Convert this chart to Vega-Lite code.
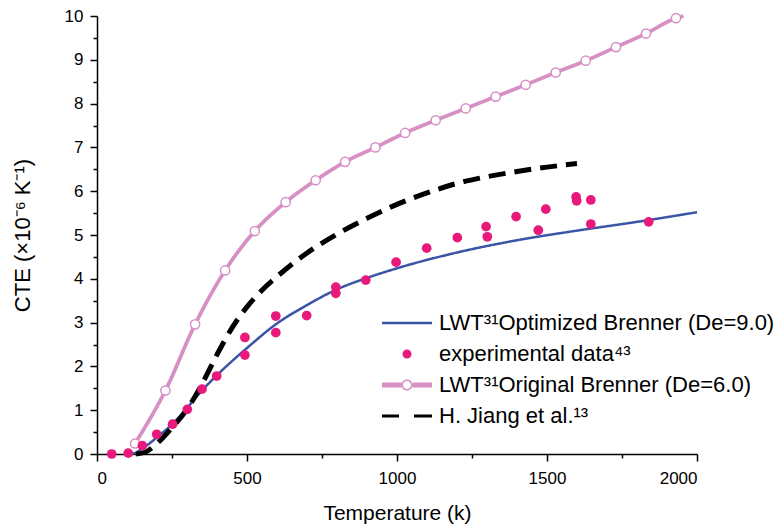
{
  "$schema": "https://vega.github.io/schema/vega-lite/v6.json",
  "width": 600,
  "height": 438,
  "autosize": "none",
  "padding": {"left": 97, "top": 16, "right": 79, "bottom": 74},
  "background": "white",
  "config": {
    "view": {"stroke": null},
    "font": "Liberation Sans",
    "axis": {
      "labelFont": "Liberation Sans", "labelFontSize": 17, "labelColor": "black",
      "titleFont": "Liberation Sans", "titleFontSize": 21, "titleFontWeight": "normal", "titleColor": "black",
      "domainColor": "black", "domainWidth": 1.5, "tickColor": "black", "tickWidth": 1.5,
      "grid": false
    },
    "legend": {"labelFont": "Liberation Sans"}
  },
  "datasets": {
    "lines": [
      {"T": 100, "CTE": 0, "series": "LWT³¹Optimized Brenner (De=9.0)"},
      {"T": 125, "CTE": 0.02, "series": "LWT³¹Optimized Brenner (De=9.0)"},
      {"T": 150, "CTE": 0.12, "series": "LWT³¹Optimized Brenner (De=9.0)"},
      {"T": 200, "CTE": 0.38, "series": "LWT³¹Optimized Brenner (De=9.0)"},
      {"T": 250, "CTE": 0.68, "series": "LWT³¹Optimized Brenner (De=9.0)"},
      {"T": 300, "CTE": 1.05, "series": "LWT³¹Optimized Brenner (De=9.0)"},
      {"T": 350, "CTE": 1.45, "series": "LWT³¹Optimized Brenner (De=9.0)"},
      {"T": 400, "CTE": 1.8, "series": "LWT³¹Optimized Brenner (De=9.0)"},
      {"T": 450, "CTE": 2.12, "series": "LWT³¹Optimized Brenner (De=9.0)"},
      {"T": 500, "CTE": 2.42, "series": "LWT³¹Optimized Brenner (De=9.0)"},
      {"T": 600, "CTE": 2.98, "series": "LWT³¹Optimized Brenner (De=9.0)"},
      {"T": 700, "CTE": 3.4, "series": "LWT³¹Optimized Brenner (De=9.0)"},
      {"T": 800, "CTE": 3.76, "series": "LWT³¹Optimized Brenner (De=9.0)"},
      {"T": 900, "CTE": 4.02, "series": "LWT³¹Optimized Brenner (De=9.0)"},
      {"T": 1000, "CTE": 4.24, "series": "LWT³¹Optimized Brenner (De=9.0)"},
      {"T": 1200, "CTE": 4.6, "series": "LWT³¹Optimized Brenner (De=9.0)"},
      {"T": 1400, "CTE": 4.88, "series": "LWT³¹Optimized Brenner (De=9.0)"},
      {"T": 1600, "CTE": 5.1, "series": "LWT³¹Optimized Brenner (De=9.0)"},
      {"T": 1800, "CTE": 5.3, "series": "LWT³¹Optimized Brenner (De=9.0)"},
      {"T": 2000, "CTE": 5.52, "series": "LWT³¹Optimized Brenner (De=9.0)"},
      {"T": 127, "CTE": 0.24, "series": "LWT³¹Original Brenner (De=6.0)"},
      {"T": 228, "CTE": 1.45, "series": "LWT³¹Original Brenner (De=6.0)"},
      {"T": 327, "CTE": 2.96, "series": "LWT³¹Original Brenner (De=6.0)"},
      {"T": 427, "CTE": 4.19, "series": "LWT³¹Original Brenner (De=6.0)"},
      {"T": 526, "CTE": 5.09, "series": "LWT³¹Original Brenner (De=6.0)"},
      {"T": 629, "CTE": 5.75, "series": "LWT³¹Original Brenner (De=6.0)"},
      {"T": 729, "CTE": 6.25, "series": "LWT³¹Original Brenner (De=6.0)"},
      {"T": 827, "CTE": 6.67, "series": "LWT³¹Original Brenner (De=6.0)"},
      {"T": 928, "CTE": 7.0, "series": "LWT³¹Original Brenner (De=6.0)"},
      {"T": 1027, "CTE": 7.33, "series": "LWT³¹Original Brenner (De=6.0)"},
      {"T": 1129, "CTE": 7.62, "series": "LWT³¹Original Brenner (De=6.0)"},
      {"T": 1229, "CTE": 7.89, "series": "LWT³¹Original Brenner (De=6.0)"},
      {"T": 1329, "CTE": 8.16, "series": "LWT³¹Original Brenner (De=6.0)"},
      {"T": 1429, "CTE": 8.43, "series": "LWT³¹Original Brenner (De=6.0)"},
      {"T": 1529, "CTE": 8.71, "series": "LWT³¹Original Brenner (De=6.0)"},
      {"T": 1629, "CTE": 8.98, "series": "LWT³¹Original Brenner (De=6.0)"},
      {"T": 1730, "CTE": 9.29, "series": "LWT³¹Original Brenner (De=6.0)"},
      {"T": 1830, "CTE": 9.6, "series": "LWT³¹Original Brenner (De=6.0)"},
      {"T": 1930, "CTE": 9.95, "series": "LWT³¹Original Brenner (De=6.0)"},
      {"T": 1955, "CTE": 10.0, "series": "LWT³¹Original Brenner (De=6.0)"},
      {"T": 130, "CTE": 0, "series": "H. Jiang et al.¹³"},
      {"T": 160, "CTE": 0.04, "series": "H. Jiang et al.¹³"},
      {"T": 200, "CTE": 0.24, "series": "H. Jiang et al.¹³"},
      {"T": 250, "CTE": 0.6, "series": "H. Jiang et al.¹³"},
      {"T": 300, "CTE": 1.02, "series": "H. Jiang et al.¹³"},
      {"T": 350, "CTE": 1.6, "series": "H. Jiang et al.¹³"},
      {"T": 400, "CTE": 2.27, "series": "H. Jiang et al.¹³"},
      {"T": 450, "CTE": 2.88, "series": "H. Jiang et al.¹³"},
      {"T": 500, "CTE": 3.36, "series": "H. Jiang et al.¹³"},
      {"T": 550, "CTE": 3.74, "series": "H. Jiang et al.¹³"},
      {"T": 600, "CTE": 4.05, "series": "H. Jiang et al.¹³"},
      {"T": 700, "CTE": 4.59, "series": "H. Jiang et al.¹³"},
      {"T": 800, "CTE": 5.02, "series": "H. Jiang et al.¹³"},
      {"T": 900, "CTE": 5.38, "series": "H. Jiang et al.¹³"},
      {"T": 1000, "CTE": 5.7, "series": "H. Jiang et al.¹³"},
      {"T": 1100, "CTE": 5.96, "series": "H. Jiang et al.¹³"},
      {"T": 1200, "CTE": 6.18, "series": "H. Jiang et al.¹³"},
      {"T": 1300, "CTE": 6.33, "series": "H. Jiang et al.¹³"},
      {"T": 1400, "CTE": 6.45, "series": "H. Jiang et al.¹³"},
      {"T": 1500, "CTE": 6.55, "series": "H. Jiang et al.¹³"},
      {"T": 1600, "CTE": 6.63, "series": "H. Jiang et al.¹³"}
    ],
    "exp": [
      {"T": 49, "CTE": 0.0},
      {"T": 104, "CTE": 0.02},
      {"T": 151, "CTE": 0.19},
      {"T": 199, "CTE": 0.45},
      {"T": 252, "CTE": 0.68},
      {"T": 301, "CTE": 1.02},
      {"T": 350, "CTE": 1.48},
      {"T": 399, "CTE": 1.78},
      {"T": 493, "CTE": 2.66},
      {"T": 493, "CTE": 2.26},
      {"T": 596, "CTE": 3.15},
      {"T": 596, "CTE": 2.77},
      {"T": 699, "CTE": 3.16},
      {"T": 796, "CTE": 3.81},
      {"T": 796, "CTE": 3.67},
      {"T": 896, "CTE": 3.97},
      {"T": 997, "CTE": 4.38},
      {"T": 1099, "CTE": 4.7},
      {"T": 1201, "CTE": 4.94},
      {"T": 1297, "CTE": 5.19},
      {"T": 1301, "CTE": 4.96},
      {"T": 1397, "CTE": 5.42},
      {"T": 1471, "CTE": 5.11},
      {"T": 1496, "CTE": 5.59},
      {"T": 1597, "CTE": 5.87},
      {"T": 1599, "CTE": 5.78},
      {"T": 1646, "CTE": 5.8},
      {"T": 1646, "CTE": 5.25},
      {"T": 1839, "CTE": 5.3}
    ]
  },
  "layer": [
    {
      "data": {"name": "lines"},
      "mark": {"type": "line", "interpolate": "monotone"},
      "encoding": {
        "x": {"field": "T", "type": "quantitative", "scale": {"domain": [0, 2000], "nice": false},
              "axis": {"title": "Temperature (k)", "values": [0, 500, 1000, 1500, 2000], "format": "d", "tickSize": 7, "labelPadding": 9, "titlePadding": 16, "orient": "bottom"}},
        "y": {"field": "CTE", "type": "quantitative", "scale": {"domain": [0, 10], "nice": false},
              "axis": {"title": "CTE (×10⁻⁶ K⁻¹)", "titleFontSize": 22, "values": [0,1,2,3,4,5,6,7,8,9,10], "tickSize": 7, "labelPadding": 7, "titlePadding": 30, "orient": "left"}},
        "color": {
          "field": "series", "type": "nominal",
          "scale": {
            "domain": ["LWT³¹Optimized Brenner (De=9.0)", "LWT³¹Original Brenner (De=6.0)", "H. Jiang et al.¹³"],
            "range": ["#3a54a6", "#d690c4", "#000000"]
          },
          "legend": null
        },
        "strokeDash": {
          "field": "series", "type": "nominal",
          "scale": {"domain": ["LWT³¹Optimized Brenner (De=9.0)", "LWT³¹Original Brenner (De=6.0)", "H. Jiang et al.¹³"], "range": [[1, 0], [1, 0], [17, 9]]},
          "legend": null
        },
        "strokeWidth": {
          "field": "series", "type": "nominal",
          "scale": {"domain": ["LWT³¹Optimized Brenner (De=9.0)", "LWT³¹Original Brenner (De=6.0)", "H. Jiang et al.¹³"], "range": [2.5, 5, 3]},
          "legend": null
        }
      }
    },
    {
      "data": {"name": "lines"},
      "transform": [{"filter": "datum.series === 'LWT³¹Original Brenner (De=6.0)' && datum.T < 1950"}],
      "mark": {"type": "point", "shape": "circle", "filled": true, "fill": "white", "stroke": "#d690c4", "strokeWidth": 1.5, "size": 85, "opacity": 1},
      "encoding": {
        "x": {"field": "T", "type": "quantitative",
              "axis": {"title": null, "values": [250, 750, 1250, 1750], "labels": false, "domain": false, "tickSize": 4, "orient": "bottom"}},
        "y": {"field": "CTE", "type": "quantitative",
              "axis": {"title": null, "values": [0.5,1.5,2.5,3.5,4.5,5.5,6.5,7.5,8.5,9.5], "labels": false, "domain": false, "tickSize": 4, "orient": "left"}}
      }
    },
    {
      "data": {"name": "exp"},
      "mark": {"type": "circle", "color": "#e8197a", "size": 95, "opacity": 1},
      "encoding": {
        "x": {"field": "T", "type": "quantitative", "axis": null},
        "y": {"field": "CTE", "type": "quantitative", "axis": null}
      }
    },
    {
      "data": {"name": "lines"},
      "transform": [{"filter": "false"}],
      "mark": {"type": "point", "filled": true, "opacity": 1, "strokeWidth": 0},
      "encoding": {
        "fill": {
          "field": "series", "type": "nominal",
          "scale": {
            "domain": ["LWT³¹Optimized Brenner (De=9.0)", "experimental data⁴³", "LWT³¹Original Brenner (De=6.0)", "H. Jiang et al.¹³"],
            "range": ["#3a54a6", "#e8197a", "#d690c4", "#000000"]
          },
          "legend": {
            "title": null, "orient": "none", "legendX": 299, "legendY": 296, "padding": 0,
            "labelFontSize": 22, "labelColor": "black", "labelOffset": 21, "labelLimit": 0,
            "symbolSize": 400, "rowPadding": 9, "symbolStrokeWidth": 0, "symbolOpacity": 1
          }
        },
        "shape": {
          "field": "series", "type": "nominal",
          "scale": {
            "domain": ["LWT³¹Optimized Brenner (De=9.0)", "experimental data⁴³", "LWT³¹Original Brenner (De=6.0)", "H. Jiang et al.¹³"],
            "range": [
              "M-2.5,-0.125L2.5,-0.125L2.5,0.125L-2.5,0.125Z",
              "M0.45,0C0.45,0.2485 0.2485,0.45 0,0.45C-0.2485,0.45 -0.45,0.2485 -0.45,0C-0.45,-0.2485 -0.2485,-0.45 0,-0.45C0.2485,-0.45 0.45,-0.2485 0.45,0Z",
              "M-2.5,-0.25L-0.55,-0.25L-0.55,0.25L-2.5,0.25Z M0.55,-0.25L2.5,-0.25L2.5,0.25L0.55,0.25Z M0.55,0C0.55,0.3038 0.3038,0.55 0,0.55C-0.3038,0.55 -0.55,0.3038 -0.55,0C-0.55,-0.3038 -0.3038,-0.55 0,-0.55C0.3038,-0.55 0.55,-0.3038 0.55,0Z M0.4,0C0.4,-0.2209 0.2209,-0.4 0,-0.4C-0.2209,-0.4 -0.4,-0.2209 -0.4,0C-0.4,0.2209 -0.2209,0.4 0,0.4C0.2209,0.4 0.4,0.2209 0.4,0Z",
              "M-2.5,-0.15L-0.8,-0.15L-0.8,0.15L-2.5,0.15Z M0.7,-0.15L2.5,-0.15L2.5,0.15L0.7,0.15Z"
            ]
          },
          "legend": {
            "title": null, "orient": "none", "legendX": 299, "legendY": 296, "padding": 0,
            "labelFontSize": 22, "labelColor": "black", "labelOffset": 21, "labelLimit": 0,
            "symbolSize": 400, "rowPadding": 9, "symbolStrokeWidth": 0, "symbolOpacity": 1
          }
        }
      }
    }
  ],
  "resolve": {"axis": {"x": "independent", "y": "independent"}}
}
